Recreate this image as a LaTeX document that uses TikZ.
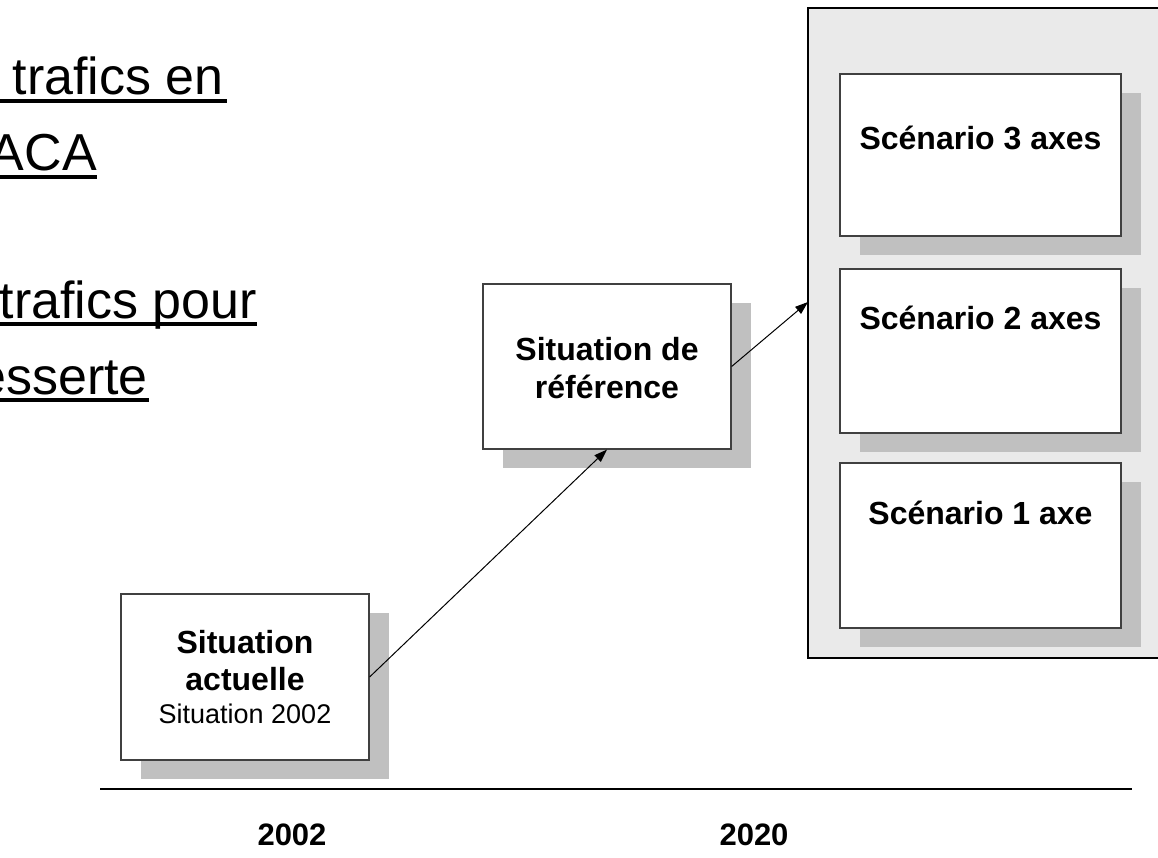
\documentclass[tikz,border=0pt]{standalone}
\usepackage{fontspec}
\setmainfont{Liberation Sans}
\usetikzlibrary{shadows,arrows.meta}
\definecolor{shade}{HTML}{C0C0C0}
\definecolor{grpfill}{HTML}{EAEAEA}
\begin{document}
\begin{tikzpicture}[x=1pt,y=-1pt,
  boxnode/.style={draw=black!75, line width=1.2pt, fill=white, inner sep=0pt,
    drop shadow={shadow xshift=20pt, shadow yshift=-19pt, fill=shade, opacity=1, draw=none}},
  grpbox/.style={draw=black, line width=2pt, fill=grpfill, inner sep=0pt},
  titletxt/.style={font=\fontsize{32}{37}\selectfont\bfseries, inner sep=0pt, anchor=base},
  subtxt/.style={font=\fontsize{27}{32}\selectfont, inner sep=0pt, anchor=base},
  bigtxt/.style={font=\fontsize{52}{60}\selectfont, inner sep=0pt, anchor=base east},
  yeartxt/.style={font=\fontsize{31}{36}\selectfont\bfseries, inner sep=0pt, anchor=base},
  ul/.style={line width=3.8pt, black},
  conn/.style={line width=1pt, black, -{Triangle[length=13pt,width=9pt]}}
]
\clip (0,0) rectangle (1158,858);
\fill[white] (0,0) rectangle (1158,858);

% left heading text (partially visible)
\node[bigtxt] (t1) at (224,95) {trafics en};
\node[bigtxt] (t2) at (97,171) {ACA};
\node[bigtxt] (t3) at (257,318) {trafics pour};
\node[bigtxt] (t4) at (148,394) {esserte};
\draw[ul] (-5,101) -- (227,101);
\draw[ul] (-5,177) -- (97,177);
\draw[ul] (-5,324) -- (257,324);
\draw[ul] (-5,400) -- (149,400);

% group of scenarios
\node[grpbox, minimum width=370pt, minimum height=650pt] (grp) at (993,333) {};

% boxes
\node[boxnode, minimum width=248pt, minimum height=166pt] (b1) at (245,677) {};
\node[boxnode, minimum width=248pt, minimum height=165pt] (b2) at (607,366.5) {};
\node[boxnode, minimum width=281pt, minimum height=162pt] (s3) at (980.5,155) {};
\node[boxnode, minimum width=281pt, minimum height=164pt] (s2) at (980.5,351) {};
\node[boxnode, minimum width=281pt, minimum height=165pt] (s1) at (980.5,545.5) {};

% box texts
\node[titletxt] (b1a) at (245,653) {Situation};
\node[titletxt] (b1b) at (245,690) {actuelle};
\node[subtxt] (b1c) at (245,723) {Situation 2002};
\node[titletxt] (b2a) at (607,360) {Situation de};
\node[titletxt] (b2b) at (607,398) {référence};
\node[titletxt] (s3t) at ([yshift=-76pt]s3.north) {Scénario 3 axes};
\node[titletxt] (s2t) at ([yshift=-61pt]s2.north) {Scénario 2 axes};
\node[titletxt] (s1t) at ([yshift=-62pt]s1.north) {Scénario 1 axe};

% connectors
\coordinate (gin) at (808,302);
\draw[conn] (b1.east) -- (b2.south);
\draw[conn] (b2.east) -- (gin);

% timeline
\coordinate (tl0) at (100,789);
\coordinate (tl1) at (1132,789);
\draw[line width=2.5pt, black] (tl0) -- (tl1);
\node[yeartxt] (y1) at (292,845) {2002};
\node[yeartxt] (y2) at (754,845) {2020};
\end{tikzpicture}
\end{document}
